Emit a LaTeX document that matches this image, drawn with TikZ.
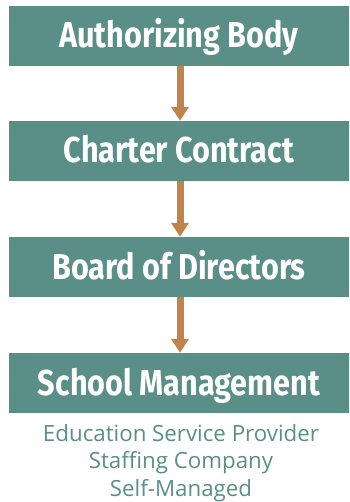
\documentclass[tikz,border=0pt]{standalone}
\usepackage{fontspec}
\setmainfont{Open Sans}
\newfontfamily\boxfont[FakeStretch=0.85]{Fira Sans}
\usetikzlibrary{arrows.meta}
\definecolor{tealbox}{HTML}{5A8F87}
\definecolor{copperarrow}{HTML}{C0834A}
\tikzset{
  stagebox/.style={fill=tealbox, text=white, minimum width=340pt, minimum height=60pt,
    inner sep=0pt, text height=24pt, text depth=0pt, font=\boxfont\bfseries\fontsize{36}{36}\selectfont},
  flowarrow/.style={draw=copperarrow, line width=7pt, -{Triangle[width=17pt,length=14pt]}},
}

\begin{document}
\begin{tikzpicture}[x=1pt, y=-1pt]
			\useasboundingbox (0,0) rectangle (349,502);
			\foreach \name/\txt/\y in {auth/Authorizing Body/36, charter/Charter Contract/151,
				board/Board of Directors/267, school/School Management/383}{
				\node[stagebox] (\name) at (179,\y) {\txt};
			}
			\draw[flowarrow] ([xshift=1pt]auth.south) -- ([xshift=1pt]charter.north);
			\draw[flowarrow] ([xshift=1pt]charter.south) -- ([xshift=1pt]board.north);
			\draw[flowarrow] ([xshift=1pt]board.south) -- ([xshift=1pt]school.north);
			\node[text=tealbox, align=center, font=\fontsize{22.3}{27.5}\selectfont, anchor=north, inner sep=0pt]
				(options) at (181,424) {Education Service Provider\\Staffing Company\\Self-Managed};
		\end{tikzpicture}
\end{document}
